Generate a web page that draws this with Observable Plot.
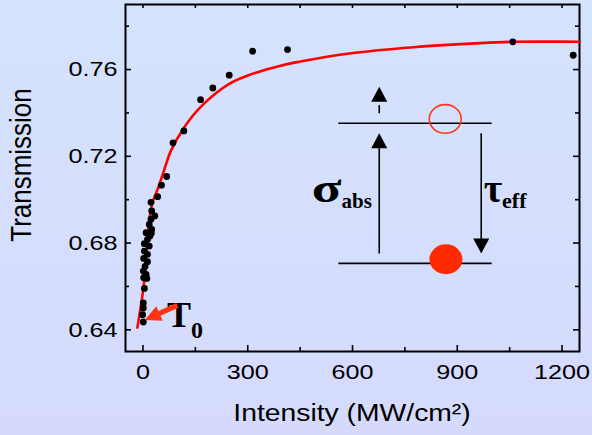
<!DOCTYPE html>
<html><head><meta charset="utf-8">
<script src="https://cdn.jsdelivr.net/npm/d3@7"></script>
<script src="https://cdn.jsdelivr.net/npm/@observablehq/plot@0.6"></script>
<style>
html,body{margin:0;padding:0;}
body{width:592px;height:435px;overflow:hidden;background:linear-gradient(#d5e3fc,#d5dafc);}
svg{display:block;}
</style></head><body><div id="chart"></div>
<script>
// Measured points
const intensity    = [314, 414, 247, 200, 165, 117, 86, 68, 53, 42, 23, 25, 34, 23, 18, 25, 9, 24, 20, 13, 4, 18, 4, 13, 2, 13, 6, 1, 9, 2, 11, 4, 1, 1, -1, 1, 1059, 1232];
const transmission = [0.7685, 0.7692, 0.7574, 0.7515, 0.7461, 0.7317, 0.7262, 0.7107, 0.7067, 0.7014, 0.6988, 0.6948, 0.6925, 0.6910, 0.6886, 0.6863, 0.6848, 0.6845, 0.6832, 0.6817, 0.6797, 0.6786, 0.6763, 0.6748, 0.6729, 0.6714, 0.6692, 0.6671, 0.6655, 0.6640, 0.6637, 0.6591, 0.6524, 0.6501, 0.6470, 0.6436, 0.7728, 0.7666];
// Fitted curve
const fitIntensity    = [-16, 3, 12, 26, 44, 60, 80, 118, 166, 247, 313, 394, 451, 585, 775, 966, 1059, 1150, 1250];
const fitTransmission = [0.641, 0.6615, 0.681, 0.698, 0.7056, 0.7133, 0.7225, 0.7333, 0.7429, 0.7534, 0.758, 0.7618, 0.7637, 0.7673, 0.7703, 0.7722, 0.7728, 0.7729, 0.7728];
// Ticks
const xMajorTicks = [0, 300, 600, 900, 1200];
const xMinorTicks = [150, 450, 750, 1050];
const yMajorTicks = [0.64, 0.68, 0.72, 0.76];
const yMinorTicks = [0.66, 0.70, 0.74, 0.78];
const xLabel = "Intensity (MW/cm²)";
const yLabel = "Transmission";

const points = intensity.map((x, i) => ({x, y: transmission[i]}));
const fit = fitIntensity.map((x, i) => ({x, y: fitTransmission[i]}));

const W = 592, H = 435, mL = 125, mR = 13, mT = 4, mB = 84;
const fh = H - mT - mB, fw = W - mL - mR;

const chart = Plot.plot({
  width: W, height: H,
  marginLeft: mL, marginRight: mR, marginTop: mT, marginBottom: mB,
  style: {background: "transparent", fontFamily: "'Liberation Sans', Arial, sans-serif", color: "black"},
  x: {domain: [-50, 1250], label: null},
  y: {domain: [0.63, 0.79], label: null},
  marks: [
    // ticks (inward)
    Plot.tickX(xMajorTicks, {x: d => d, insetTop: fh - 6, stroke: "black", strokeWidth: 1.6}),
    Plot.tickX(xMinorTicks, {x: d => d, insetTop: fh - 4, stroke: "black", strokeWidth: 1.6}),
    Plot.tickX(xMajorTicks, {x: d => d, insetBottom: fh - 4, stroke: "black", strokeWidth: 1.6}),
    Plot.tickX(xMinorTicks, {x: d => d, insetBottom: fh - 4, stroke: "black", strokeWidth: 1.6}),
    Plot.tickY(yMajorTicks, {y: d => d, insetRight: fw - 6, stroke: "black", strokeWidth: 1.6}),
    Plot.tickY(yMinorTicks, {y: d => d, insetRight: fw - 4, stroke: "black", strokeWidth: 1.6}),
    Plot.tickY(yMajorTicks, {y: d => d, insetLeft: fw - 6, stroke: "black", strokeWidth: 1.6}),
    Plot.tickY(yMinorTicks, {y: d => d, insetLeft: fw - 4, stroke: "black", strokeWidth: 1.6}),
    Plot.axisX(xMajorTicks, {tickSize: 0, tickPadding: 13, fontSize: 21, tickFormat: d => String(d), label: null}),
    Plot.axisY(yMajorTicks, {tickSize: 0, tickPadding: 8, fontSize: 21, tickFormat: d3.format(".2f"), label: null}),
    Plot.frame({stroke: "black", strokeWidth: 2}),
    Plot.line(fit, {x: "x", y: "y", stroke: "#ff0000", strokeWidth: 2.6, curve: "catmull-rom"}),
    Plot.dot(points, {x: "x", y: "y", r: 3.4, fill: "black"})
  ]
});

document.getElementById("chart").appendChild(chart);

// widen the tick labels like the reference
d3.select(chart).selectAll('g[aria-label$="tick label"] text').each(function() {
  const t = this.getAttribute("transform");
  if (t) this.setAttribute("transform", t + " scale(1.2,1)");
});

const sx = v => chart.scale("x").apply(v);
const sy = v => chart.scale("y").apply(v);
const svg = d3.select(chart);
const g = svg.append("g");

// axis titles
g.append("text").attr("transform", `translate(${(mL + W - mR) / 2},413) scale(1.18,1)`)
  .attr("text-anchor", "middle").attr("dy", "0.35em")
  .attr("font-family", "'Liberation Sans', Arial, sans-serif").attr("font-size", 24).attr("fill", "black")
  .text(xLabel);
g.append("text").attr("transform", `translate(21,165) rotate(-90) scale(1,1.15)`)
  .attr("text-anchor", "middle").attr("dy", "0.35em")
  .attr("font-family", "'Liberation Sans', Arial, sans-serif").attr("font-size", 26).attr("fill", "black")
  .text(yLabel);

// energy-level inset (data coordinates)
const upperLevel = 0.735, lowerLevel = 0.6704, levelX = [561, 1000];
const upX = 678, downX = 970, arrowTop = 0.7304, arrowBottom = 0.675;
const smallTip = 0.7519, dash = [0.7434, 0.7396];
const black = "black";
[upperLevel, lowerLevel].forEach(v => g.append("line")
  .attr("x1", sx(levelX[0])).attr("x2", sx(levelX[1])).attr("y1", sy(v)).attr("y2", sy(v))
  .attr("stroke", black).attr("stroke-width", 1.6));
function head(x, tipY, dir) { // dir=+1 pointing up, -1 down
  const b = tipY + dir * 15;
  g.append("polygon").attr("points", `${x},${tipY} ${x - 8},${b} ${x + 8},${b}`).attr("fill", black);
}
// up arrow
g.append("line").attr("x1", sx(upX)).attr("x2", sx(upX)).attr("y1", sy(arrowBottom)).attr("y2", sy(arrowTop) + 10)
  .attr("stroke", black).attr("stroke-width", 1.6);
head(sx(upX), sy(arrowTop), 1);
// small upward arrow above upper level
g.append("line").attr("x1", sx(upX)).attr("x2", sx(upX)).attr("y1", sy(dash[0])).attr("y2", sy(dash[1]))
  .attr("stroke", black).attr("stroke-width", 1.6);
head(sx(upX), sy(smallTip), 1);
// down arrow
g.append("line").attr("x1", sx(downX)).attr("x2", sx(downX)).attr("y1", sy(arrowTop)).attr("y2", sy(arrowBottom) - 10)
  .attr("stroke", black).attr("stroke-width", 1.6);
head(sx(downX), sy(arrowBottom), -1);
// electrons
g.append("ellipse").attr("cx", sx(867)).attr("cy", sy(0.737)).attr("rx", 16).attr("ry", 14.3)
  .attr("fill", "none").attr("stroke", "#ff3b1f").attr("stroke-width", 1.6);
g.append("ellipse").attr("cx", sx(869)).attr("cy", sy(0.6723)).attr("rx", 16.5).attr("ry", 15)
  .attr("fill", "#ff2a00");

const serif = "'Liberation Serif', 'Times New Roman', serif";
function label(x, y, main, sub, mainSize, mainScale, subSize, subDy) {
  const x0 = sx(x), y0 = sy(y);
  const m = g.append("text").attr("transform", `translate(${x0},${y0}) scale(${mainScale},1)`)
    .attr("text-anchor", "start").attr("font-family", serif).attr("font-weight", "bold")
    .attr("font-size", mainSize).attr("fill", black).text(main);
  const w = m.node().getComputedTextLength() * mainScale;
  g.append("text").attr("x", x0 + w).attr("y", y0 + subDy).attr("text-anchor", "start")
    .attr("font-family", serif).attr("font-weight", "bold").attr("font-size", subSize).attr("fill", black).text(sub);
}
label(485, 0.6987, "σ", "abs", 42, 1.3, 21, 6);
label(977, 0.6987, "τ", "eff", 40, 1.0, 22, 6);
label(70, 0.6412, "T", "0", 36, 1.0, 24, 11);

// T0 arrow
(function() {
  const tail = [sx(100), sy(0.6510)], tip = [sx(7), sy(0.6443)];
  const dx = tip[0] - tail[0], dy = tip[1] - tail[1], L = Math.hypot(dx, dy);
  const ux = dx / L, uy = dy / L, nx = -uy, ny = ux;
  const hl = 16, hw = 8, sw = 2.6;
  const bx = tip[0] - ux * hl, by = tip[1] - uy * hl;
  const p = [
    [tail[0] + nx * sw, tail[1] + ny * sw], [bx + nx * sw, by + ny * sw], [bx + nx * hw, by + ny * hw],
    tip, [bx - nx * hw, by - ny * hw], [bx - nx * sw, by - ny * sw], [tail[0] - nx * sw, tail[1] - ny * sw]
  ];
  g.append("polygon").attr("points", p.map(q => q.join(",")).join(" ")).attr("fill", "#ff3311");
})();
</script></body></html>
